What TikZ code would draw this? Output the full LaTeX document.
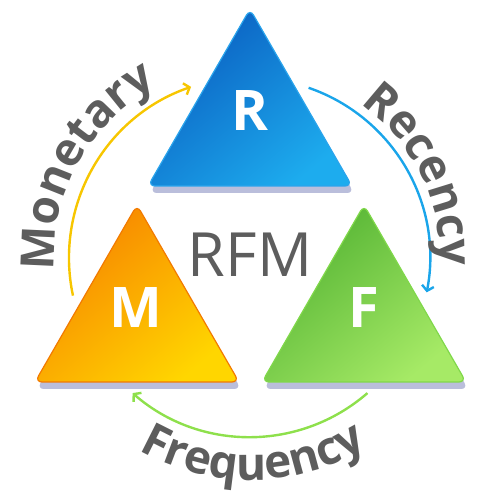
\documentclass[tikz,border=0pt]{standalone}
\usepackage{fontspec}
\setmainfont{Open Sans}
\usetikzlibrary{arrows.meta,calc,decorations.text}

\definecolor{rdark}{HTML}{0A5DC0}
\definecolor{rlight}{HTML}{1DACEE}
\definecolor{redge}{HTML}{2AA4EC}
\definecolor{mdark}{HTML}{F78200}
\definecolor{mlight}{HTML}{FFD600}
\definecolor{medge}{HTML}{F27A00}
\definecolor{fdark}{HTML}{52B232}
\definecolor{flight}{HTML}{A6EA66}
\definecolor{fedge}{HTML}{80D84A}
\definecolor{mloop}{HTML}{F7C600}
\definecolor{rloop}{HTML}{1AA5EA}
\definecolor{floop}{HTML}{8EE04C}
\definecolor{labelgray}{HTML}{5D5D5D}
\definecolor{shadowcol}{HTML}{9CA2CC}

\begin{document}
\begin{tikzpicture}[x=1pt, y=1pt,
  loop/.style={line width=2.4pt, -{Straight Barb[length=5pt,width=12pt]}},
  letter/.style={text=white, font=\bfseries\fontsize{56}{60}\selectfont},
  tri/.style={rounded corners=7pt, line width=1.2pt},
  shade below/.style={fill=shadowcol, opacity=0.7, rounded corners=7pt},
  word/.style={decorate, decoration={text along path, text align=center,
    text color=labelgray, text={|\bfseries\fontsize{46}{50}\selectfont|#1}}}]
  \useasboundingbox (0,0) rectangle (500,500);
  \coordinate (c) at (250,242);

  % shadows
  \fill[shade below] (252,484) -- ++(-102,-177) -- ++(204,0) -- cycle;
  \fill[shade below] (139,288) -- ++(-102,-177) -- ++(204,0) -- cycle;
  \fill[shade below] (366,288) -- ++(-102,-177) -- ++(204,0) -- cycle;

  % triangles
  \shadedraw[tri, top color=rdark, bottom color=rlight, shading angle=40, draw=redge]
    (250,491) -- ++(-102,-177) -- ++(204,0) -- cycle;
  \shadedraw[tri, top color=mdark, bottom color=mlight, shading angle=40, draw=medge]
    (137,295) -- ++(-102,-177) -- ++(204,0) -- cycle;
  \shadedraw[tri, top color=fdark, bottom color=flight, shading angle=40, draw=fedge]
    (364,295) -- ++(-102,-177) -- ++(204,0) -- cycle;

  \node[letter] (R) at (250,389) {R};
  \node[letter] (M) at (136,192) {M};
  \node[letter] (F) at (364,192) {F};
  \node[text=labelgray, font=\fontsize{61}{70}\selectfont] (rfm) at (250,245) {RFM};

  % loop arrows
  \coordinate (m1) at ($(c)+(192:181)$);
  \coordinate (r1) at ($(c)+(71:180)$);
  \coordinate (f1) at ($(c)+(-49:179)$);
  \draw[loop, mloop] (m1) arc[start angle=192, end angle=109, radius=181];
  \draw[loop, rloop] (r1) arc[start angle=71, end angle=-11, radius=180];
  \draw[loop, floop] (f1) arc[start angle=-49, end angle=-131, radius=179];

  % curved words
  \coordinate (mw) at ($(c)+(201:196)$);
  \coordinate (rw) at ($(c)+(77:190)$);
  \coordinate (fw) at ($(c)+(221:222)$);
  \path[word=Monetary] (mw) arc[start angle=201, end angle=101, radius=196];
  \path[word=Recency] (rw) arc[start angle=77, end angle=-25, radius=190];
  \path[word=Frequency] (fw) arc[start angle=221, end angle=321, radius=222];
\end{tikzpicture}
\end{document}
